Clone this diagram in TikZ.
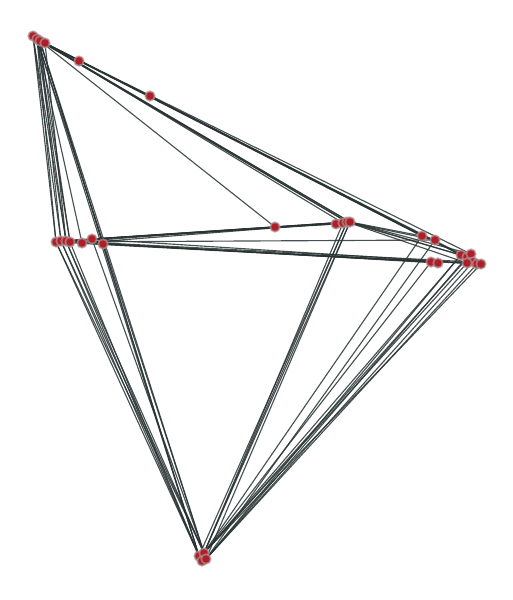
\documentclass[tikz,border=0pt]{standalone}
\usepackage{tikz}
\usepackage{tkz-graph}

\definecolor{nodered}{RGB}{178,28,38}
\definecolor{nodering}{RGB}{170,150,150}
\definecolor{edgegray}{RGB}{40,50,50}

\pgfdeclarelayer{front}
\pgfsetlayers{main,front}

\begin{document}
\begin{tikzpicture}[x=0.02cm,y=-0.02cm]
        \GraphInit[vstyle=Normal]
        \SetVertexNoLabel
        \tikzset{VertexStyle/.style={shape=circle,fill=nodered,draw=nodering,draw opacity=0.7,line width=1pt,minimum size=0.19cm,inner sep=0pt}}
        \tikzset{EdgeStyle/.style={draw=edgegray,line width=0.65pt,opacity=0.85}}
        \tikzset{thinedge/.style={line width=0.45pt,opacity=0.7}}
        \useasboundingbox (0,0) rectangle (513,600);

        % vertices
        \begin{pgfonlayer}{front}
        \Vertex[x=33,y=36]{a1}
        \Vertex[x=37,y=39]{a2}
        \Vertex[x=40,y=41]{a3}
        \Vertex[x=45,y=43]{a4}
        \Vertex[x=79,y=61]{a5}
        \Vertex[x=150,y=96]{a6}
        \Vertex[x=56,y=242]{b1}
        \Vertex[x=61,y=241]{b2}
        \Vertex[x=66,y=241]{b3}
        \Vertex[x=70,y=242]{b4}
        \Vertex[x=82,y=243]{b5}
        \Vertex[x=92,y=239]{b6}
        \Vertex[x=103,y=244]{b7}
        \Vertex[x=275,y=227]{c1}
        \Vertex[x=336,y=224]{c2}
        \Vertex[x=343,y=223]{c3}
        \Vertex[x=347,y=222]{c4}
        \Vertex[x=350,y=222,style={minimum size=0.25cm}]{c5}
        \Vertex[x=422,y=236]{d1}
        \Vertex[x=435,y=240]{d2}
        \Vertex[x=431,y=262]{d3}
        \Vertex[x=438,y=263]{d4}
        \Vertex[x=461,y=255]{d5}
        \Vertex[x=467,y=257]{d6}
        \Vertex[x=471,y=254]{d7}
        \Vertex[x=473,y=262]{d8}
        \Vertex[x=477,y=264]{d9}
        \Vertex[x=481,y=264]{d10}
        \Vertex[x=467,y=263]{d11}
        \Vertex[x=199,y=556]{e1}
        \Vertex[x=204,y=553]{e2}
        \Vertex[x=202,y=561]{e3}
        \Vertex[x=206,y=559]{e4}
        \end{pgfonlayer}

        % top left to left
        \Edge(a1)(b1)
        \Edge(a1)(b2)
        \Edge(a2)(b1)
        \Edge(a2)(b3)
        \Edge(a3)(b2)
        \Edge(a3)(b4)
        \Edge(a4)(b3)
        \Edge(a2)(b4)
        \Edge(a1)(b3)
        \Edge[style=thinedge](a2)(b5)
        \Edge[style=thinedge](a3)(b7)
        % top left to bottom
        \Edge(a2)(e1)
        \Edge(a2)(e2)
        \Edge(a3)(e1)
        \Edge(a3)(e2)
        % top left to right
        \Edge(a4)(a5)
        \Edge(a5)(a6)
        \Edge(a6)(d5)
        \Edge(a4)(d5)
        \Edge(a4)(d6)
        \Edge(a3)(d7)
        \Edge(a4)(d1)
        \Edge(a3)(d1)
        % top left to centre
        \Edge[style=thinedge](a3)(c4)
        \Edge[style=thinedge](a4)(c5)
        \Edge[style=thinedge](a3)(c5)
        \Edge[style=thinedge](a4)(c3)
        \Edge[style=thinedge](a4)(c4)
        \Edge[style=thinedge](a3)(c1)
        % left to centre
        \Edge(b2)(c1)
        \Edge(c1)(c2)
        \Edge(b2)(c2)
        \Edge(b3)(c3)
        \Edge(b4)(c4)
        \Edge(b5)(c5)
        \Edge(b6)(c4)
        \Edge(b3)(c4)
        % left to right
        \Edge(b1)(d3)
        \Edge(b2)(d4)
        \Edge(b3)(d8)
        \Edge(b4)(d9)
        \Edge(b5)(d11)
        \Edge(b6)(d11)
        \Edge(b7)(d3)
        \Edge[style=thinedge](b1)(d2)
        % centre to right
        \Edge(c4)(d5)
        \Edge(c5)(d6)
        \Edge(c5)(d7)
        \Edge(c4)(d11)
        \Edge[style=thinedge](c5)(d1)
        \Edge[style=thinedge](c4)(d2)
        % centre to bottom
        \Edge(c4)(e2)
        \Edge(c4)(e1)
        \Edge(c5)(e2)
        \Edge(c5)(e4)
        \Edge(c3)(e2)
        % right to bottom
        \Edge[style=thinedge](d1)(e2)
        \Edge[style=thinedge](d2)(e4)
        \Edge[style=thinedge](d3)(e2)
        \Edge(d5)(e2)
        \Edge(d6)(e4)
        \Edge(d7)(e2)
        \Edge(d8)(e4)
        \Edge(d9)(e4)
        \Edge(d10)(e2)
        \Edge(d11)(e2)
        \Edge(d5)(e4)
        % left to bottom
        \Edge(b1)(e1)
        \Edge(b2)(e2)
        \Edge(b3)(e1)
        \Edge(b4)(e1)
        \Edge(b2)(e1)
        \Edge(b1)(e2)
        \Edge(b3)(e2)
        \Edge(b6)(e2)
        \Edge[style=thinedge](b7)(e1)
    \end{tikzpicture}
\end{document}
